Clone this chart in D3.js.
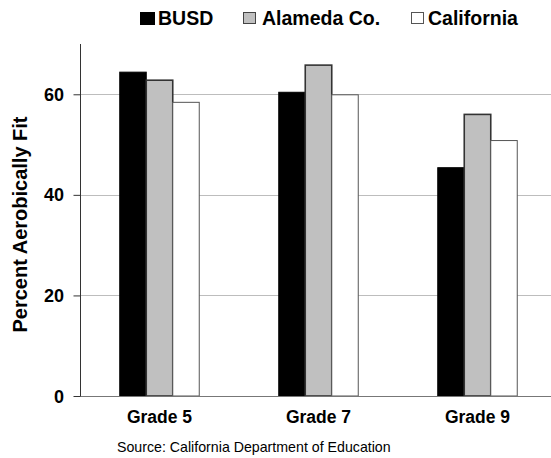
<!DOCTYPE html>
<html>
<head>
<meta charset="utf-8">
<script src="https://cdn.jsdelivr.net/npm/d3@7"></script>
<style>
  html, body { margin: 0; padding: 0; background: #fff; }
  svg { display: block; font-family: Arial, "Liberation Sans", sans-serif; }
</style>
</head>
<body>
<svg id="chart" width="551" height="458"></svg>
<script>
// Percent of students aerobically fit, by grade
const grades = ["Grade 5", "Grade 7", "Grade 9"];
const seriesNames = ["BUSD", "Alameda Co.", "California"];
const busd = [64.4, 60.4, 45.4];
const alameda = [62.8, 65.8, 56.0];
const california = [58.4, 59.9, 50.8];
const yTicks = [0, 20, 40, 60];

const seriesValues = [busd, alameda, california];
const fills = ["#000000", "#c0c0c0", "#ffffff"];
const strokes = ["#000000", "#333333", "#555555"];

const svg = d3.select("#chart");
const margin = { left: 80, top: 44, bottom: 62 };
const plotRight = 557;
const height = 458;
const y0 = height - margin.bottom;

const x = d3.scaleBand().domain(grades).range([margin.left, plotRight]).paddingInner(0).paddingOuter(0);
const xs = d3.scaleBand().domain(seriesNames).range([0, x.bandwidth() / 2]);
const y = d3.scaleLinear().domain([0, 70]).range([y0, margin.top]);

// gridlines
svg.append("g")
  .selectAll("line")
  .data(yTicks.filter(t => t > 0))
  .join("line")
  .attr("x1", margin.left).attr("x2", 551)
  .attr("y1", d => Math.round(y(d)) + 0.5).attr("y2", d => Math.round(y(d)) + 0.5)
  .attr("stroke", "#bdbdbd").attr("stroke-width", 1);

// bars
const groups = svg.append("g")
  .selectAll("g")
  .data(grades)
  .join("g")
  .attr("transform", d => `translate(${x(d) + x.bandwidth() / 4},0)`);

groups.selectAll("rect")
  .data((g, gi) => seriesNames.map((s, si) => ({ s, si, v: seriesValues[si][gi] })))
  .join("rect")
  .attr("x", d => xs(d.s))
  .attr("width", xs.bandwidth())
  .attr("y", d => y(d.v))
  .attr("height", d => y0 - y(d.v))
  .attr("fill", d => fills[d.si])
  .attr("stroke", d => strokes[d.si])
  .attr("stroke-width", d => d.si === 1 ? 1.6 : 1);

// x axis baseline
svg.append("line")
  .attr("x1", margin.left).attr("x2", 551)
  .attr("y1", y0 + 0.5).attr("y2", y0 + 0.5)
  .attr("stroke", "#777").attr("stroke-width", 1.2);

// y axis
const yAxis = svg.append("g")
  .attr("transform", `translate(${margin.left + 0.5},0)`)
  .call(d3.axisLeft(y).tickValues(yTicks).tickSize(7).tickPadding(9).tickFormat(d3.format("d")));
yAxis.select(".domain").attr("stroke", "#333").attr("d", `M-0,${margin.top}V${y0}`);
yAxis.selectAll(".tick line").attr("stroke", "#333");
yAxis.selectAll(".tick text")
  .attr("font-size", 18).attr("font-weight", "bold").attr("fill", "#000")
  .attr("font-family", "Arial, 'Liberation Sans', sans-serif")
  .attr("x", -16.5).attr("dy", "0.34em");

// y axis title
svg.append("text")
  .attr("transform", "translate(27,224.5) rotate(-90)")
  .attr("text-anchor", "middle")
  .attr("font-size", 20).attr("font-weight", "bold")
  .text("Percent Aerobically Fit");

// category labels
svg.append("g")
  .selectAll("text")
  .data(grades)
  .join("text")
  .attr("x", d => x(d) + x.bandwidth() / 2)
  .attr("y", 423)
  .attr("text-anchor", "middle")
  .attr("font-size", 17.5).attr("font-weight", "bold")
  .text(d => d);

// source note
svg.append("text")
  .attr("x", 117).attr("y", 452)
  .attr("font-size", 14.2)
  .text("Source: California Department of Education");

// legend
const legendX = [140, 243, 411];
const legendTextX = [158, 262, 428];
const legend = svg.append("g");
legend.selectAll("rect")
  .data(seriesNames)
  .join("rect")
  .attr("x", (d, i) => legendX[i] + 0.5).attr("y", 12.5)
  .attr("width", (d, i) => i === 0 ? 14 : 12)
  .attr("height", (d, i) => i === 0 ? 12 : 11)
  .attr("fill", (d, i) => fills[i])
  .attr("stroke", (d, i) => i === 0 ? "#000" : i === 1 ? "#444" : "#555")
  .attr("stroke-width", 1);
legend.selectAll("text")
  .data(seriesNames)
  .join("text")
  .attr("x", (d, i) => legendTextX[i])
  .attr("y", 25)
  .attr("font-size", 19.5).attr("font-weight", "bold")
  .text(d => d);
</script>
</body>
</html>
